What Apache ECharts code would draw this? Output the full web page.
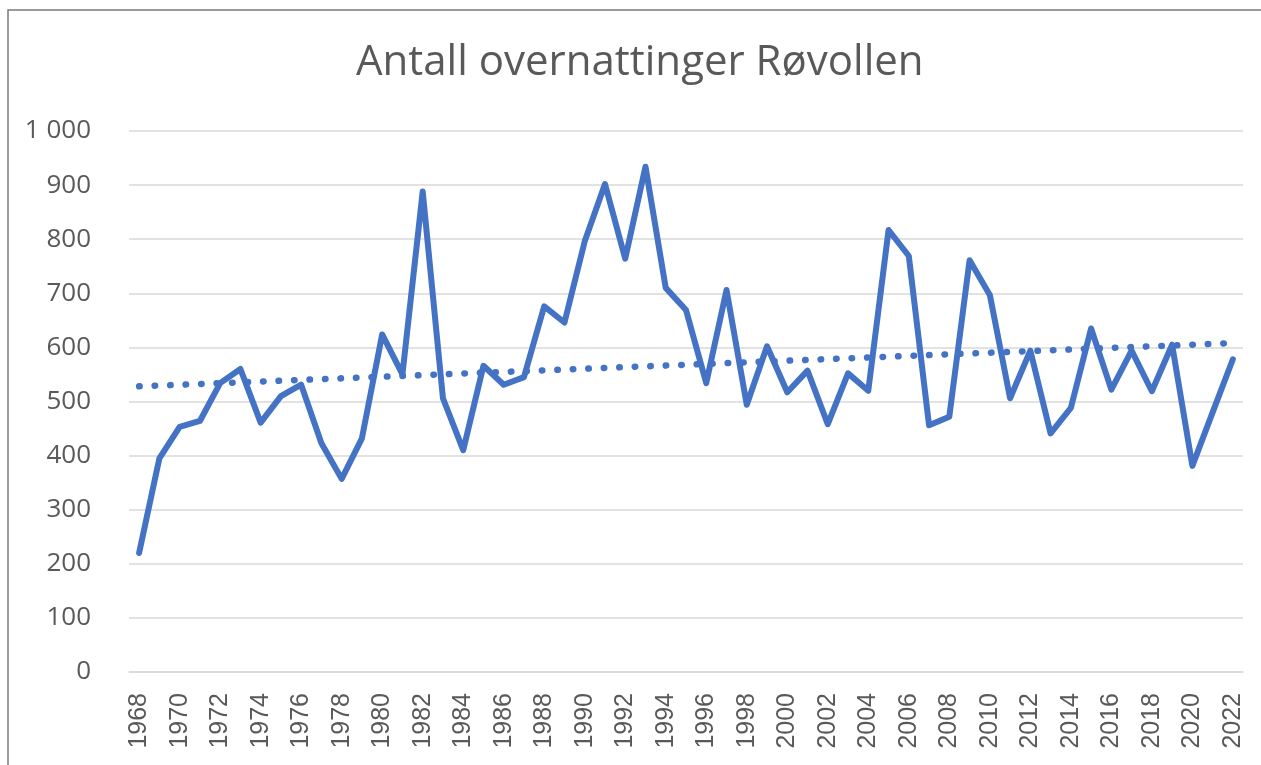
<!DOCTYPE html>
<html>
<head>
<meta charset="utf-8">
<script src="https://cdn.jsdelivr.net/npm/echarts@6/dist/echarts.min.js"></script>
<style>
html,body{margin:0;padding:0;background:#fff;}
#chart{width:1261px;height:765px;}
</style>
</head>
<body>
<div id="chart"></div>
<script>
const years = ['1968','1969','1970','1971','1972','1973','1974','1975','1976','1977','1978','1979','1980','1981','1982','1983','1984','1985','1986','1987','1988','1989','1990','1991','1992','1993','1994','1995','1996','1997','1998','1999','2000','2001','2002','2003','2004','2005','2006','2007','2008','2009','2010','2011','2012','2013','2014','2015','2016','2017','2018','2019','2020','2021','2022'];
const overnattinger = [220,395,453,464,534,560,461,510,531,423,357,432,624,550,888,506,410,566,531,545,676,646,796,902,764,934,710,669,534,706,494,602,517,557,458,552,520,817,769,456,472,761,697,506,594,441,488,635,522,594,519,605,381,480,578];
// linear trend line endpoints
const trendStart = 528;
const trendEnd = 608;
const yTicks = { min: 0, max: 1000, interval: 100 };

const chart = echarts.init(document.getElementById('chart'), null, {renderer:'canvas'});
const blue = '#4472C4';
const gray = '#595959';
chart.setOption({
  animation: false,
  backgroundColor: '#ffffff',
  title: {
    text: 'Antall overnattinger Røvollen',
    left: 356,
    top: 42,
    padding: 0,
    textStyle: { fontFamily: 'Open Sans', fontSize: 42, fontWeight: 'normal', color: gray }
  },
  graphic: [{
    type: 'polyline',
    shape: { points: [[8, 770], [8, 10], [1270, 10]] },
    style: { stroke: '#7a7a7a', lineWidth: 1.5, fill: null },
    silent: true
  }],
  grid: { left: 129, right: 18, top: 131, bottom: 93, containLabel: false },
  xAxis: {
    type: 'category',
    data: years,
    boundaryGap: true,
    axisLine: { show: true, lineStyle: { color: '#d9d9d9', width: 1.5 } },
    axisTick: { show: false },
    axisLabel: {
      interval: 1,
      rotate: 90,
      margin: 21,
      fontFamily: 'Liberation Sans',
      fontSize: 25,
      color: gray
    },
    splitLine: { show: false }
  },
  yAxis: {
    type: 'value',
    min: yTicks.min,
    max: yTicks.max,
    interval: yTicks.interval,
    axisLine: { show: false },
    axisTick: { show: false },
    axisLabel: {
      margin: 38,
      fontFamily: 'Open Sans',
      fontSize: 26,
      color: gray,
      formatter: v => v >= 1000 ? Math.floor(v/1000) + ' ' + String(v % 1000).padStart(3, '0') : String(v)
    },
    splitLine: { show: true, lineStyle: { color: '#d9d9d9', width: 1.5 } }
  },
  series: [{
    type: 'line',
    data: overnattinger,
    showSymbol: false,
    symbol: 'none',
    lineStyle: { color: blue, width: 6, cap: 'round', join: 'round' },
    emphasis: { disabled: true },
    markLine: {
      silent: true,
      symbol: ['none', 'none'],
      label: { show: false },
      emphasis: { disabled: true },
      lineStyle: { color: blue, width: 6.5, type: [0.5, 15], cap: 'round' },
      data: [[
        { coord: [years[0], trendStart] },
        { coord: [years[years.length - 1], trendEnd] }
      ]]
    }
  }]
});
</script>
</body>
</html>
